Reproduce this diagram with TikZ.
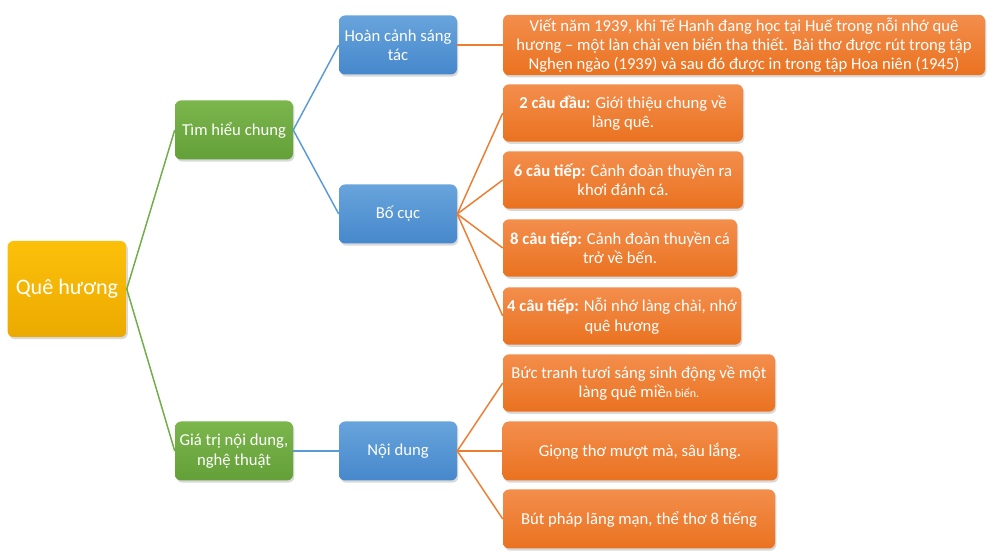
\documentclass[tikz,border=0pt]{standalone}
\usepackage{fontspec}
\setmainfont{Carlito}
\usepackage{xcolor}
\usetikzlibrary{shadows}
\definecolor{rootcolor}{RGB}{252, 192, 10}
\definecolor{rootdark}{RGB}{236, 170, 0}
\definecolor{greencolor}{RGB}{122, 182, 76}
\definecolor{greendark}{RGB}{100, 160, 56}
\definecolor{bluecolor}{RGB}{104, 164, 220}
\definecolor{bluedark}{RGB}{70, 136, 204}
\definecolor{orangecolor}{RGB}{243, 142, 76}
\definecolor{orangedark}{RGB}{234, 114, 32}
\definecolor{greenline}{RGB}{112, 173, 71}
\definecolor{blueline}{RGB}{91, 155, 213}
\definecolor{orangeline}{RGB}{237, 125, 49}

\tikzset{
    box/.style={rounded corners=4.5pt, text=white, align=center, inner sep=2pt,
        drop shadow={opacity=0.3, shadow xshift=1pt, shadow yshift=-1.6pt},
        font=\fontsize{12.5}{14.5}\selectfont},
    rootbox/.style={box, top color=rootcolor, bottom color=rootdark,
        minimum width=89.25pt, minimum height=72pt, font=\fontsize{16.6}{19}\selectfont},
    greenbox/.style={box, top color=greencolor, bottom color=greendark,
        minimum width=88.5pt, minimum height=44.25pt},
    bluebox/.style={box, top color=bluecolor, bottom color=bluedark,
        minimum width=88.5pt, minimum height=44.25pt},
    orangebox/.style={box, top color=orangecolor, bottom color=orangedark,
        minimum height=43pt},
    greenlink/.style={draw=greenline, line width=1.1pt},
    bluelink/.style={draw=blueline, line width=1.1pt},
    orangelink/.style={draw=orangeline, line width=1.1pt}
}

\begin{document}
\begin{tikzpicture}[x=0.75pt, y=-0.75pt]
    \useasboundingbox (0,0) rectangle (993,559);

    % Root
    \node[rootbox] (que) at (67, 289) {Quê hương};

    % First level
    \node[greenbox] (timhieu) at (234, 130) {Tìm hiểu chung};
    \node[greenbox] (giatri) at (234, 451) {Giá trị nội dung,\\nghệ thuật};

    % Second level
    \node[bluebox] (hoancanh) at (398, 45) {Hoàn cảnh sáng\\tác};
    \node[bluebox] (bocuc) at (398, 214) {Bố cục};
    \node[bluebox] (noidung) at (398, 451) {Nội dung};

    % Leaves: Hoan canh
    \node[orangebox, minimum width=361.5pt, minimum height=44.25pt] (viet) at (744, 45)
        {Viết năm 1939, khi Tế Hanh đang học tại Huế trong nỗi nhớ quê\\hương – một làn chài ven biển tha thiết. Bài thơ được rút trong tập\\Nghẹn ngào (1939) và sau đó được in trong tập Hoa niên (1945)};

    % Leaves: Bo cuc
    \node[orangebox, minimum width=180pt] (cau2) at (623, 113)
        {\textbf{2 câu đầu:} Giới thiệu chung về\\làng quê.};
    \node[orangebox, minimum width=180pt] (cau6) at (623, 180)
        {\textbf{6 câu tiếp:} Cảnh đoàn thuyền ra\\khơi đánh cá.};
    \node[orangebox, minimum width=175.5pt] (cau8) at (620, 248)
        {\textbf{8 câu tiếp:} Cảnh đoàn thuyền cá\\trở về bến.};
    \node[orangebox, minimum width=178.5pt] (cau4) at (622, 316)
        {\textbf{4 câu tiếp:} Nỗi nhớ làng chài, nhớ\\quê hương};

    % Leaves: Noi dung
    \node[orangebox, minimum width=204pt] (buctranh) at (639, 383)
        {Bức tranh tươi sáng sinh động về một\\làng quê miề{\fontsize{9}{10}\selectfont n biển.}};
    \node[orangebox, minimum width=206pt, minimum height=44.25pt] (giong) at (640, 451)
        {Giọng thơ mượt mà, sâu lắng.};
    \node[orangebox, minimum width=204pt, minimum height=44.25pt] (butphap) at (639, 519)
        {Bút pháp lãng mạn, thể thơ 8 tiếng};

    % Connectors
    \draw[greenlink] (que.east) -- (timhieu.west);
    \draw[greenlink] (que.east) -- (giatri.west);

    \draw[bluelink] (timhieu.east) -- (hoancanh.west);
    \draw[bluelink] (timhieu.east) -- (bocuc.west);
    \draw[bluelink] (giatri.east) -- (noidung.west);

    \draw[orangelink] (hoancanh.east) -- (viet.west);
    \foreach \leaf in {cau2, cau6, cau8, cau4}
        \draw[orangelink] (bocuc.east) -- (\leaf.west);
    \foreach \leaf in {buctranh, giong, butphap}
        \draw[orangelink] (noidung.east) -- (\leaf.west);
\end{tikzpicture}
\end{document}
